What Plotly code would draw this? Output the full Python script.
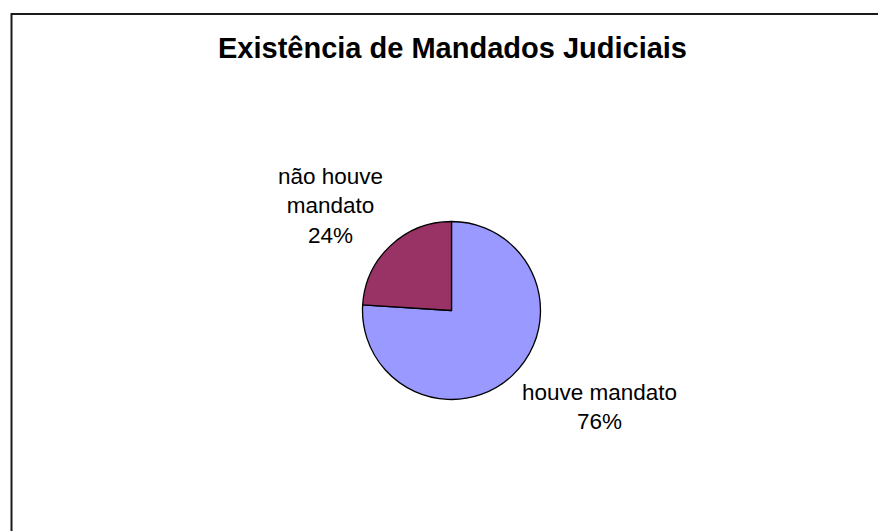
import plotly.graph_objects as go

# Data
categories = ["houve mandato", "não houve mandato"]
values = [76, 24]
label_lines = ["houve mandato", "não houve<br>mandato"]
colors = ["#9999FF", "#993366"]
title_text = "Existência de Mandados Judiciais"

W, H = 878, 531

def px(x):
    return x / W

def py(y):
    return 1 - y / H

# pie geometry (pixels)
cx, cy, r = 451.5, 310.5, 89

fig = go.Figure()
fig.add_trace(go.Pie(
    labels=categories,
    values=values,
    sort=False,
    direction="clockwise",
    rotation=0,
    marker=dict(colors=colors, line=dict(color="#000000", width=1.3)),
    textinfo="none",
    hoverinfo="label+percent",
    showlegend=False,
    domain=dict(x=[px(cx - r), px(cx + r)], y=[py(cy + r), py(cy - r)]),
))

total = sum(values)
label_pos = [(599.5, 407), (330, 206)]
annotations = []
for lab, v, (lx, ly) in zip(label_lines, values, label_pos):
    annotations.append(dict(
        text=f"{lab}<br>{round(100 * v / total)}%",
        x=px(lx), y=py(ly), xref="paper", yref="paper",
        xanchor="center", yanchor="middle", showarrow=False,
        font=dict(family="Liberation Sans, Arial", size=22.5, color="#000000"),
        align="center",
    ))

annotations.append(dict(
    text=f"<b>{title_text}</b>",
    x=px(452), y=py(48.5), xref="paper", yref="paper",
    xanchor="center", yanchor="middle", showarrow=False,
    font=dict(family="Liberation Sans, Arial", size=29, color="#000000"),
))

fig.update_layout(
    width=W, height=H,
    margin=dict(l=0, r=0, t=0, b=0),
    paper_bgcolor="#FFFFFF",
    plot_bgcolor="#FFFFFF",
    annotations=annotations,
    shapes=[dict(
        type="rect", xref="paper", yref="paper",
        x0=px(11.5), x1=px(W + 20), y0=py(H + 20), y1=py(14),
        line=dict(color="#1a1a1a", width=2), fillcolor="rgba(0,0,0,0)",
        layer="above",
    )],
)

fig.write_html("out.html")
